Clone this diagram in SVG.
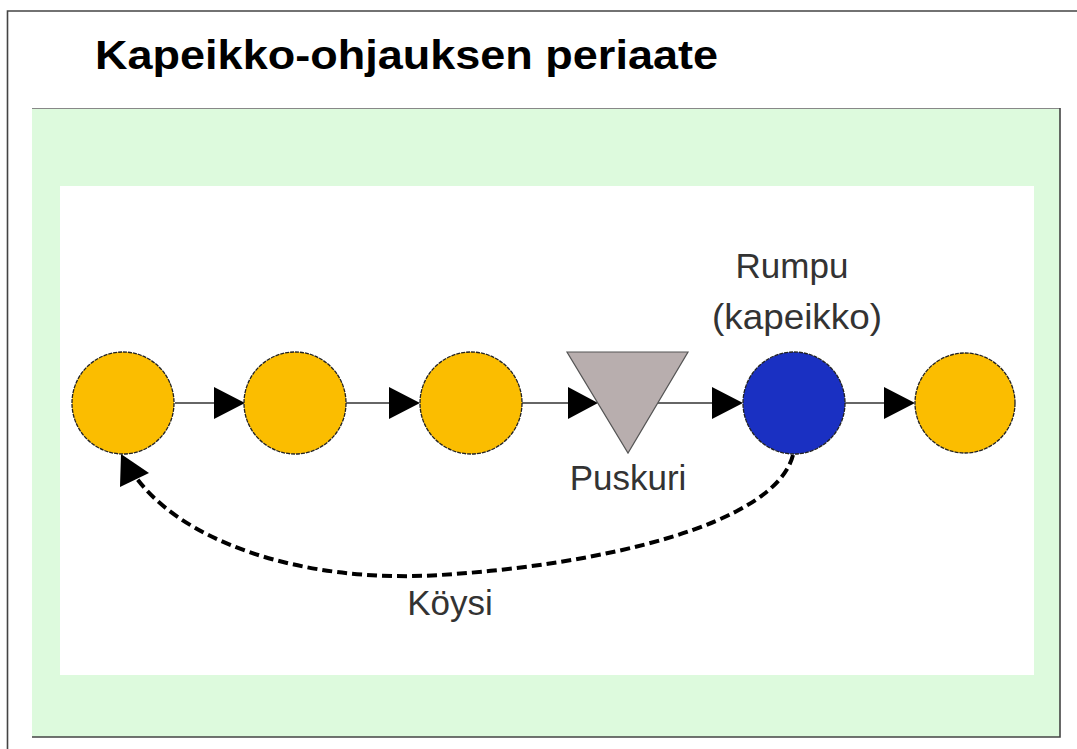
<svg xmlns="http://www.w3.org/2000/svg" width="1077" height="749" viewBox="0 0 1077 749">
<style>
.lbl{font-family:"Liberation Sans",Arial,sans-serif;font-size:35px;fill:#333}
.title{font-family:"Liberation Sans",Arial,sans-serif;font-size:40px;font-weight:bold;fill:#000}
.node{stroke:#222;stroke-width:1.3;stroke-dasharray:4 1}
.orange{fill:#FBBD00}
.edge{stroke:#333;stroke-width:1.6;fill:none}
.head{fill:#000}
</style>
<rect x="0" y="0" width="1077" height="749" fill="#fff"/>
<path d="M7.5,749 V11 H1077" fill="none" stroke="#444" stroke-width="1.6"/>
<text class="title" x="95" y="69" textLength="623" lengthAdjust="spacingAndGlyphs">Kapeikko-ohjauksen periaate</text>
<rect x="32" y="108" width="1028" height="629" fill="#DDFADD"/>
<line x1="32" y1="108.5" x2="1060" y2="108.5" stroke="#888" stroke-width="1.2"/>
<path d="M1060,108 V737 H32" fill="none" stroke="#444" stroke-width="1.6"/>
<rect x="60" y="186" width="974" height="489" fill="#fff"/>

<g id="connectors">
<line class="edge" x1="175" y1="403" x2="240" y2="403"/>
<polygon class="head" points="245,403 214,387 214,419"/>
<line class="edge" x1="346" y1="403" x2="415" y2="403"/>
<polygon class="head" points="420,403 389,387 389,419"/>
<line class="edge" x1="522" y1="403" x2="593" y2="403"/>
<polygon class="head" points="598,403 568,387 568,419"/>
<line class="edge" x1="658" y1="403" x2="738" y2="403"/>
<polygon class="head" points="743,403 712,387 712,419"/>
<line class="edge" x1="845" y1="403" x2="910" y2="403"/>
<polygon class="head" points="915,403 884,387 884,419"/>
<path d="M793,455 C775,525 600,565 440,575 C300,584 175,540 131,470" fill="none" stroke="#000" stroke-width="4" stroke-dasharray="10 5"/>
<polygon class="head" points="121,454 149,473 120,487"/>
</g>

<g id="n1"><circle class="node orange" cx="123" cy="403" r="51"/></g>
<g id="n2"><circle class="node orange" cx="295" cy="403" r="51"/></g>
<g id="n3"><circle class="node orange" cx="471" cy="403" r="51"/></g>
<g id="puskuri">
<polygon points="567,352 688,352 628,453" fill="#B8AEAE" stroke="#555" stroke-width="1.2"/>
<text class="lbl" x="628" y="490" text-anchor="middle">Puskuri</text>
</g>
<g id="rumpu">
<circle class="node" cx="794" cy="403" r="51" fill="#1A30C2"/>
<text class="lbl" x="792" y="278" text-anchor="middle">Rumpu</text>
<text class="lbl" x="797" y="329" text-anchor="middle" textLength="170" lengthAdjust="spacingAndGlyphs">(kapeikko)</text>
</g>
<g id="n6"><circle class="node orange" cx="965" cy="403" r="50"/></g>
<g id="koysi"><text class="lbl" x="450" y="615" text-anchor="middle">Köysi</text></g>
</svg>
